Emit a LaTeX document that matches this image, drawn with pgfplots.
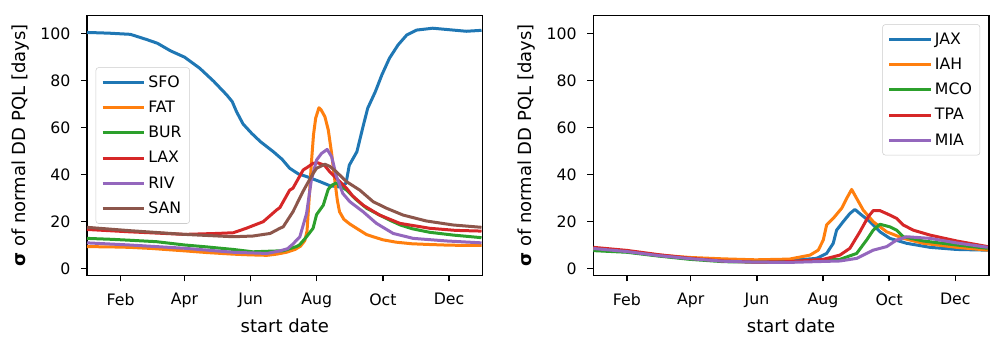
\documentclass[border=0pt]{standalone}
\usepackage{pgfplots}
\pgfplotsset{compat=1.18}
\usepackage{fontspec}
\setmainfont{DejaVu Sans}
\definecolor{c1}{HTML}{1F77B4}
\definecolor{c2}{HTML}{FF7F0E}
\definecolor{c3}{HTML}{2CA02C}
\definecolor{c4}{HTML}{D62728}
\definecolor{c5}{HTML}{9467BD}
\definecolor{c6}{HTML}{8C564B}
\tikzset{ln/.style={line width=2.25pt, line join=round}}
\pgfplotsset{myaxis/.style={
  scale only axis, width=296.7pt, height=194.7pt,
  xmin=0, xmax=365, ymin=-2.8, ymax=107.5,
  xtick={31,90,151,212,273,334}, xticklabels={Feb,Apr,Jun,Aug,Oct,Dec},
  ytick={0,20,40,60,80,100},
  tick align=outside, tick pos=left, major tick length=4.5pt,
  axis line style={line width=1pt},
  every tick/.style={black, line width=1pt},
  xlabel={start date},
  ylabel={{\bfseries σ} of normal DD PQL [days]},
  tick label style={font=\fontsize{11.8}{13}\selectfont},
  xticklabel style={yshift=-5.5pt},
  yticklabel style={xshift=-4.5pt},
  label style={font=\fontsize{13.5}{16}\selectfont},
  /pgf/number format/assume math mode=true,
  legend cell align=left,
  legend image code/.code={\draw[#1] (0pt,0pt) -- (26.5pt,0pt); \path (0pt,0pt) -- (31pt,0pt);},
  legend style={draw=black!20, rounded corners=2pt, fill=white, fill opacity=0.8, text opacity=1,
    font=\fontsize{11.8}{13}\selectfont, row sep=4.8pt, inner sep=4pt},
  ylabel style={at={(axis description cs:-0.168,0.5)}, anchor=center},
  xlabel style={at={(axis description cs:0.5,-0.195)}, anchor=center},
}}
\begin{document}
\begin{tikzpicture}
\useasboundingbox (-65.25pt,-48.5pt) rectangle (684.75pt,206.5pt);
\begin{axis}[myaxis, at={(0pt,0pt)}, anchor=south west,
  legend style={at={(0.022,0.5)}, anchor=west}]
\addplot[c1, ln] coordinates {(0,100.4) (20,100.1) (40,99.6) (55,97.4) (65,95.8) (77,92.6) (90,89.9) (104,85.2) (117,79.6) (129,73.8) (134,71) (138,66.7) (144,61.5) (152,57.5) (160,54) (172,49.7) (180,46.5) (187,42.7) (195,40.3) (203,39.1) (215,37) (224,35.3) (232,34.8) (239,36.3) (242,44) (249,49.7) (255,61) (259,68.2) (266,75.2) (272,82.3) (279,89.4) (287,95.1) (295,99.3) (304,101.4) (319,102.2) (338,101.4) (350,100.9) (364,101.3)};
\addlegendentry{SFO}
\addplot[c2, ln] coordinates {(0,9.4) (20,9.3) (39,9.1) (60,8.6) (90,7.6) (110,6.9) (135,6.2) (150,5.9) (166,5.7) (175,6.2) (184,7.0) (192,8.2) (197,9.6) (201,12) (203,16) (205,30) (207,44.8) (209,57) (211,64) (214,68.4) (216,67.5) (219.5,64.6) (222.6,59) (225.7,49) (228.6,37.7) (231,29) (233,24.2) (237,21) (242.5,19) (250,16.8) (258,14.5) (264,13.6) (273,12.3) (285,11.3) (300,10.6) (316,10.3) (335,10) (364,9.9)};
\addlegendentry{FAT}
\addplot[c3, ln] coordinates {(0,12.9) (23,12.5) (40,12.1) (64,11.5) (90,10.1) (110,9.3) (135,8.2) (153,7.2) (165,7.4) (181,7.65) (193,9.4) (196,10.1) (202.6,13.6) (208.6,17.2) (211.8,23) (218,27) (222.6,33.8) (226,35.5) (230,36.5) (233,35.5) (239.5,33.4) (248,29.5) (258,25.7) (270,22.8) (280,20.5) (289,18.6) (300,17) (316,15.5) (338,14.3) (364,13.2)};
\addlegendentry{BUR}
\addplot[c4, ln] coordinates {(0,16.7) (39,15.7) (90,14.6) (120,15) (135,15.3) (147,17.2) (162.6,20) (175,25) (178,26) (187,33.4) (190,34.2) (199.5,42) (203,43) (208.6,44.8) (213,45) (216,44.5) (219,44) (224,41.2) (227,39.8) (239.5,34.2) (245,31) (254.8,27) (270,22.8) (288.6,19.3) (316,17.2) (340,16.3) (364,16)};
\addlegendentry{LAX}
\addplot[c5, ln] coordinates {(0,11) (39,10.1) (90,8.7) (135,7) (166,6.5) (178,7.6) (185,8.5) (190,10.5) (196.4,13.6) (202.6,23.5) (207,37.7) (211.8,46.2) (216.4,49) (221.6,50.7) (225.7,47.6) (230,39.5) (236,32) (242.5,28.5) (254.8,24.2) (267,19.3) (282.5,15) (301,12.9) (332,11.8) (364,11)};
\addlegendentry{RIV}
\addplot[c6, ln] coordinates {(0,17.6) (39,16.2) (90,14.6) (135,13.6) (153,13.9) (169,15) (178,17.2) (181,17.8) (190,24.2) (199.5,33) (202.6,35.6) (208.6,40.5) (211.8,42.7) (219.5,44.4) (224,43.5) (230,41.2) (239.5,37) (251.7,33.4) (264,28.5) (276.4,25.7) (291.7,22.8) (313,20.3) (337.7,18.6) (364,17.6)};
\addlegendentry{SAN}
\end{axis}
\begin{axis}[myaxis, at={(379.7pt,0pt)}, anchor=south west,
  legend style={at={(0.978,0.967)}, anchor=north east}]
\addplot[c1, ln] coordinates {(0,8) (31,7.2) (60,5.6) (89,4.3) (120,3.5) (150,3.2) (181,3.5) (206,4.4) (215.3,6.5) (221.4,10.8) (224.5,16.4) (230.6,20) (236.8,23.5) (241.4,25.2) (247.6,22.8) (255.3,20) (264.5,15.7) (273.7,12.9) (289.2,10.8) (310.7,9.1) (335,8.2) (364,7.9)};
\addlegendentry{JAX}
\addplot[c2, ln] coordinates {(0,8.5) (31,7.3) (60,5.8) (89,4.8) (120,4.2) (150,3.8) (181,4.1) (200,5.8) (207.6,7.9) (212.2,12.2) (215.3,18.6) (221.4,21.4) (229.2,25.7) (233.8,29.9) (238.4,33.7) (243,29.9) (249.1,24.9) (258.3,20) (270.7,15.7) (286,12.9) (304.5,10.8) (335.3,9.1) (364,7.9)};
\addlegendentry{IAH}
\addplot[c3, ln] coordinates {(0,7.7) (31,7.0) (60,5.4) (89,4.0) (120,3.0) (150,2.8) (181,2.9) (227.6,4.0) (243,6.5) (252.2,12.2) (258.3,16.4) (264.5,18.9) (273.7,17.8) (279.9,16.4) (286,13.6) (304.5,11.8) (335,10.1) (364,8.7)};
\addlegendentry{MCO}
\addplot[c4, ln] coordinates {(0,9.1) (31,7.8) (60,6) (89,4.5) (120,3.3) (150,2.8) (181,3.0) (212.2,4.0) (227.6,5.8) (236.8,8.7) (246,15.7) (253.7,22.1) (258.3,24.7) (264.5,24.7) (273.7,22.8) (279.9,21.4) (286,18.6) (295.2,16.4) (310.7,14.3) (335.3,11.8) (364,9.4)};
\addlegendentry{TPA}
\addplot[c5, ln] coordinates {(0,8.6) (31,7.3) (60,5.6) (89,4.3) (120,3.2) (150,2.8) (181,2.7) (227.6,3.3) (243,4.4) (258.3,7.9) (270.7,9.4) (279.9,12.2) (289.2,13.6) (310.7,12.9) (335,11) (364,9.1)};
\addlegendentry{MIA}
\end{axis}
\end{tikzpicture}
\end{document}
